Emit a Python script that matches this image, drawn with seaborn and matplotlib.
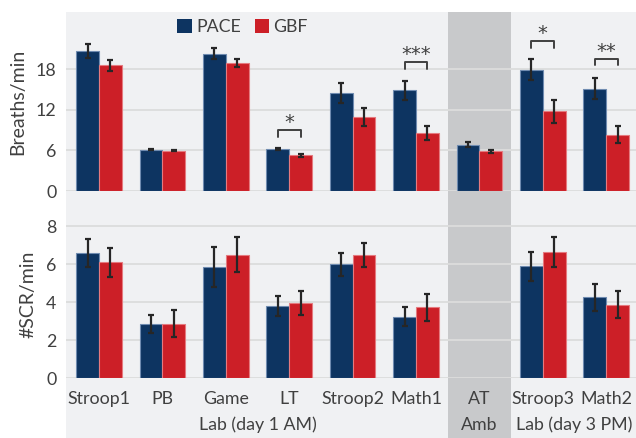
import numpy as np
import pandas as pd
import seaborn as sns
import matplotlib
matplotlib.use("Agg")
import matplotlib.pyplot as plt
from matplotlib.patches import Rectangle, Patch
from matplotlib.transforms import blended_transform_factory

categories = ["Stroop1", "PB", "Game", "LT", "Stroop2", "Math1", "AT", "Stroop3", "Math2"]
groups = ["PACE", "GBF"]

br_pace = [20.75, 6.1, 20.35, 6.2, 14.55, 14.9, 6.85, 17.95, 15.15]
br_pace_err = [1.0, 0.1, 0.8, 0.1, 1.45, 1.4, 0.35, 1.55, 1.6]
br_gbf = [18.6, 5.96, 18.9, 5.27, 10.95, 8.53, 5.87, 11.8, 8.33]
br_gbf_err = [0.8, 0.1, 0.6, 0.25, 1.35, 1.05, 0.2, 1.7, 1.25]

scr_pace = [6.58, 2.87, 5.84, 3.82, 6.0, 3.24, np.nan, 5.89, 4.26]
scr_pace_err = [0.73, 0.48, 1.06, 0.52, 0.6, 0.5, np.nan, 0.76, 0.7]
scr_gbf = [6.1, 2.87, 6.51, 3.96, 6.49, 3.74, np.nan, 6.66, 3.87]
scr_gbf_err = [0.77, 0.7, 0.94, 0.65, 0.63, 0.71, np.nan, 0.78, 0.7]

sig_cats = ["LT", "Math1", "Stroop3", "Math2"]
sig_labels = ["*", "***", "*", "**"]
sig_levels = [9.0, 19.1, 22.2, 19.6]

group_labels = ["Lab (day 1 AM)", "Amb", "Lab (day 3 PM)"]
group_centers = [2.5, 6, 7.5]

colors = {"PACE": "#0d3461", "GBF": "#cc1f27"}
edges = {"PACE": "#6f8bb0", "GBF": "#e57a7f"}
bg = "#f0f1f3"
band = "#c8c9cb"
txt = "#404040"

sns.set_theme(style="white")
plt.rcParams["font.family"] = ["Lato", "DejaVu Sans"]

W, H = 636, 438
fig = plt.figure(figsize=(W / 100, H / 100), dpi=100)

left = 66 / W
ax1 = fig.add_axes([left, (H - 191) / H, 1 - left, (191 - 12) / H])
ax2 = fig.add_axes([left, (H - 378.3) / H, 1 - left, (378.3 - 211) / H])

# background
fig.patches.append(Rectangle((left, 0), 1 - left, (H - 12) / H, transform=fig.transFigure,
                             facecolor=bg, edgecolor="none", zorder=-10))

width = 0.72
xlim = (-0.52, 8.47)
FS = 12.8

def draw(ax, pace, pace_err, gbf, gbf_err, ylim, yticks, ylabel):
    df = pd.DataFrame({
        "cat": categories * 2,
        "grp": ["PACE"] * len(categories) + ["GBF"] * len(categories),
        "val": list(pace) + list(gbf),
    })
    sns.barplot(data=df.dropna(), x="cat", y="val", hue="grp", order=categories,
                hue_order=groups, palette=colors, width=width, errorbar=None,
                saturation=1, ax=ax, legend=False, zorder=3)
    for bars, g in zip(ax.containers, groups):
        for b in bars:
            b.set_edgecolor(edges[g])
            b.set_linewidth(0.8)
    idx = np.arange(len(categories))
    off = width / 4
    for vals, errs, sgn in [(pace, pace_err, -1), (gbf, gbf_err, 1)]:
        v = np.array(vals, float)
        e = np.array(errs, float)
        m = ~np.isnan(v)
        ax.errorbar(idx[m] + sgn * off, v[m], yerr=e[m], fmt="none", ecolor="#262626",
                    elinewidth=1.6, capsize=2.5, capthick=1.6, zorder=5)
    ax.set_facecolor("none")
    ax.set_xlim(*xlim)
    ax.set_ylim(*ylim)
    ax.set_yticks(yticks)
    ax.yaxis.grid(True, color="#dcdcdc", linewidth=1.3)
    ax.set_axisbelow(True)
    for s in ax.spines.values():
        s.set_visible(False)
    ax.tick_params(axis="both", length=0, labelsize=FS, colors=txt, pad=7)
    ax.set_ylabel(ylabel, fontsize=14, color=txt, labelpad=7)
    ax.set_xlabel("")
    ax.axvspan(5.5, 6.5, color=band, zorder=0.2, lw=0)

draw(ax1, br_pace, br_pace_err, br_gbf, br_gbf_err, (0, 26.5), [0, 6, 12, 18], "Breaths/min")
draw(ax2, scr_pace, scr_pace_err, scr_gbf, scr_gbf_err, (0, 8.8), [0, 2, 4, 6, 8], "#SCR/min")

ax1.set_xticklabels([])
ax2.set_xticks(range(len(categories)))
ax2.set_xticklabels(categories)
ax2.tick_params(axis="x", pad=9)

# band across gaps and label area
bt = blended_transform_factory(ax2.transData, fig.transFigure)
fig.patches.append(Rectangle((5.5, 0), 1.0, (H - 12) / H, transform=bt,
                             facecolor=band, edgecolor="none", zorder=-9))

# significance brackets
for c, lab, lev in zip(sig_cats, sig_labels, sig_levels):
    i = categories.index(c)
    x0, x1 = i - width / 4, i + width / 4
    tip = 1.0
    ax1.plot([x0, x0, x1, x1], [lev - tip, lev, lev, lev - tip], color="#404040", lw=1.4, zorder=6)
    ax1.text(i, lev + 0.3, lab, ha="center", va="baseline", fontsize=14,
             family="DejaVu Sans", color=txt)

# group labels
for lab, xc in zip(group_labels, group_centers):
    ax2.text(xc, 8 / H, lab, transform=bt, ha="center", va="baseline", fontsize=FS, color=txt)

handles = [Patch(facecolor=colors[g], edgecolor="none", label=g) for g in groups]
ax1.legend(handles=handles, loc="center", bbox_to_anchor=(0.31, 0.915), ncol=2, frameon=False,
           fontsize=12.8, handlelength=0.8, handleheight=0.8, handletextpad=0.25, columnspacing=0.8,
           labelcolor=txt)

fig.savefig("out.png", dpi=100)
